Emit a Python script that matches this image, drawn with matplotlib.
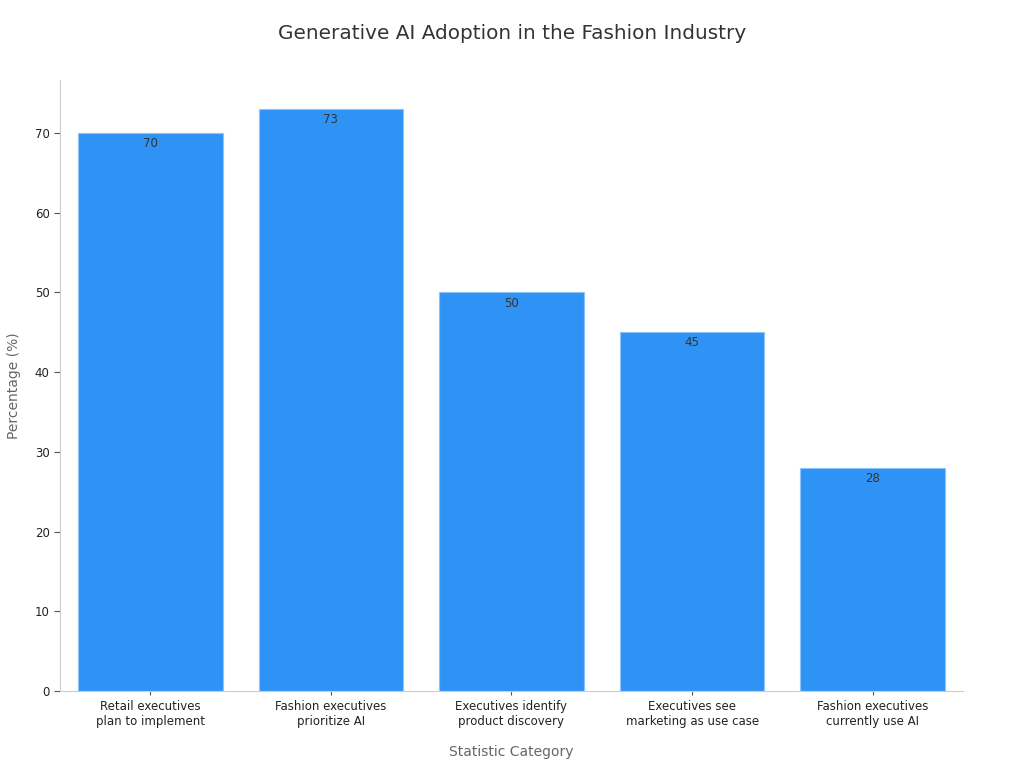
import numpy as np
import matplotlib.pyplot as plt

plt.rcParams['font.family'] = ['DejaVu Sans']

# dados do gráfico
categorias = ['Retail executives\nplan to implement',
              'Fashion executives\nprioritize AI',
              'Executives identify\nproduct discovery',
              'Executives see\nmarketing as use case',
              'Fashion executives\ncurrently use AI']
valores = [70, 73, 50, 45, 28]

fig = plt.figure(figsize=(10.24, 7.68), dpi=100)
ax = fig.add_axes([0.0586, 0.1003, 0.8818, 0.7955])

x = np.arange(len(categorias))
barras = ax.bar(x, valores, width=0.8, color='#2E93F5', edgecolor='#8CC4F7', linewidth=0.8)

for b, v in zip(barras, valores):
    ax.annotate(str(v), (b.get_x() + b.get_width() / 2, v), xytext=(0, -3),
                textcoords='offset points', ha='center', va='top',
                fontsize=8.5, color='#333333')

ax.set_xlim(-0.5, len(categorias) - 0.5)
ax.set_ylim(0, 76.65)
ax.set_xticks(x)
ax.set_xticklabels(categorias)
ax.tick_params(colors='#555555', length=4, width=0.8)
ax.tick_params(axis='x', length=3)
ax.tick_params(axis='both', labelsize=8.5, labelcolor='#222222')

for s in ['top', 'right']:
    ax.spines[s].set_visible(False)
for s in ['left', 'bottom']:
    ax.spines[s].set_color('#CCCCCC')

ax.set_xlabel('Statistic Category', fontsize=10, color='#666666', labelpad=12)
ax.set_ylabel('Percentage (%)', fontsize=10, color='#666666', labelpad=10)

fig.text(0.5, 0.957, 'Generative AI Adoption in the Fashion Industry',
         ha='center', va='center', fontsize=14.4, color='#333333')

fig.savefig('out.png', dpi=100)
